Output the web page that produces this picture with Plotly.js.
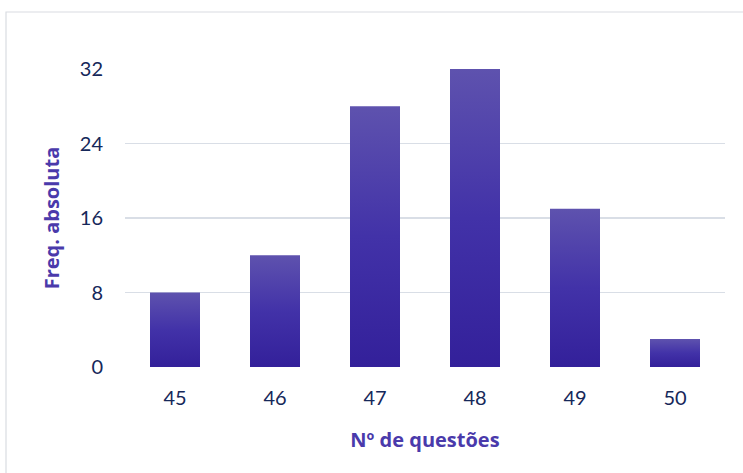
<!DOCTYPE html>
<html>
<head>
<meta charset="utf-8">
<script src="https://cdn.plot.ly/plotly-3.0.1.min.js"></script>
<style>
  html, body { margin: 0; padding: 0; background: #ffffff; }
  #chart { width: 743px; height: 473px; }
</style>
</head>
<body>
<div id="chart"></div>
<script>
// Data
const categories = ["45", "46", "47", "48", "49", "50"];
const frequencies = [8, 12, 28, 32, 17, 3];
const yTickValues = [0, 8, 16, 24, 32];
const xTitle = "Nº de questões";
const yTitle = "Freq. absoluta";

const trace = {
  type: "bar",
  x: categories,
  y: frequencies,
  marker: { color: "#4433A6", line: { width: 0 } },
  hoverinfo: "x+y"
};

const titleFont = { size: 20, color: "#4A3AAB", family: "'Open Sans', Lato, sans-serif", weight: "bold" };

const layout = {
  width: 743,
  height: 473,
  margin: { l: 125, r: 18, t: 69, b: 106 },
  paper_bgcolor: "#ffffff",
  plot_bgcolor: "#ffffff",
  bargap: 0.5,
  showlegend: false,
  font: { family: "Lato, 'Open Sans', sans-serif", color: "#16285A", size: 20 },
  xaxis: {
    type: "category",
    showgrid: false,
    zeroline: false,
    showline: false,
    ticks: "",
    ticklabelstandoff: 17,
    tickfont: { size: 20, color: "#16285A" },
    title: { text: xTitle, font: titleFont, standoff: 24 }
  },
  yaxis: {
    range: [0, 32],
    tickvals: yTickValues,
    ticktext: yTickValues.map(String),
    showgrid: true,
    gridcolor: "#D9DEE6",
    gridwidth: 1.8,
    zeroline: false,
    showline: false,
    ticks: "",
    ticklabelstandoff: 21,
    tickfont: { size: 20, color: "#16285A" },
    title: { text: yTitle, font: titleFont, standoff: 14 }
  },
  shapes: [{
    type: "rect",
    xref: "paper", yref: "paper",
    x0: (6 - 125) / 600, x1: (760 - 125) / 600,
    y0: (367 - 490) / 298, y1: (367 - 12) / 298,
    line: { color: "#D9DCE1", width: 1.2 },
    fillcolor: "rgba(0,0,0,0)",
    layer: "below"
  }]
};

Plotly.newPlot("chart", [trace], layout, { displayModeBar: false, staticPlot: true }).then(function (gd) {
  // vertical gradient for each bar (lighter top, darker bottom)
  const svg = gd.querySelector("svg.main-svg");
  const ns = "http://www.w3.org/2000/svg";
  let defs = svg.querySelector("defs");
  if (!defs) { defs = document.createElementNS(ns, "defs"); svg.insertBefore(defs, svg.firstChild); }
  const grad = document.createElementNS(ns, "linearGradient");
  grad.setAttribute("id", "barGrad");
  grad.setAttribute("x1", "0"); grad.setAttribute("y1", "0");
  grad.setAttribute("x2", "0"); grad.setAttribute("y2", "1");
  [["0", "#5E52AE"], ["0.5", "#4232A8"], ["1", "#33209A"]].forEach(function (s) {
    const stop = document.createElementNS(ns, "stop");
    stop.setAttribute("offset", s[0]);
    stop.setAttribute("stop-color", s[1]);
    grad.appendChild(stop);
  });
  defs.appendChild(grad);
  gd.querySelectorAll(".bars .point path").forEach(function (p) {
    p.style.fill = "url(#barGrad)";
  });
});
</script>
</body>
</html>
